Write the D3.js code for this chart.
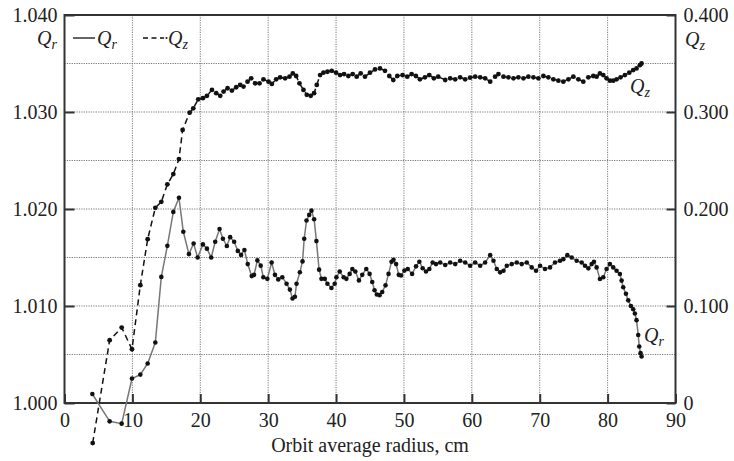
<!DOCTYPE html>
<html><head><meta charset="utf-8">
<script src="https://cdn.jsdelivr.net/npm/d3@7"></script>
<style>
html,body{margin:0;padding:0;background:#fff;}
text{font-family:"Liberation Serif","Times New Roman",serif;fill:#222;}
</style></head>
<body><svg id="c" width="734" height="461"></svg>
<script>
// ---- data ----
const qrX = [4.1,6.65,8.42,9.94,11.17,12.25,13.38,14.26,15.15,16.03,16.86,17.5,18.33,19.02,19.61,20.39,20.98,21.61,22.2,22.84,23.33,23.91,24.4,24.99,25.53,26.01,26.5,26.99,27.58,27.92,28.41,28.9,29.29,29.88,30.51,31.0,31.49,32.08,32.71,33.2,33.59,33.94,34.18,34.67,35.06,35.31,35.65,36.04,36.38,36.77,37.11,37.5,37.85,38.34,38.73,39.32,39.8,40.05,40.54,41.12,41.52,42.0,42.4,42.84,43.37,43.86,44.45,44.94,45.33,45.67,46.01,46.41,46.8,47.29,47.73,48.17,48.46,48.85,49.24,49.58,50.07,50.56,51.2,51.78,52.27,52.76,53.25,53.74,54.23,54.72,55.34,56.08,56.81,57.55,58.28,59.02,59.75,60.49,61.23,61.96,62.7,63.19,63.68,64.17,64.66,65.15,65.88,66.62,67.35,68.09,68.82,69.46,70.05,70.78,71.52,72.25,72.99,73.48,74.07,74.71,75.44,76.18,76.67,77.16,77.65,77.99,78.38,78.87,79.36,79.85,80.34,80.83,81.32,81.81,82.06,82.3,82.7,83.04,83.43,83.77,84.02,84.26,84.51,84.66,84.85,85.0];
const qrY = [1.00093,0.99811,0.99787,1.00252,1.00293,1.00407,1.00623,1.0130,1.0162,1.0197,1.02116,1.01765,1.01535,1.01645,1.0150,1.01635,1.01591,1.0150,1.01662,1.01794,1.01693,1.01618,1.0171,1.01662,1.01568,1.01527,1.01578,1.01432,1.01308,1.01321,1.0147,1.01416,1.01297,1.0128,1.01449,1.01321,1.01274,1.01297,1.0123,1.01169,1.01078,1.01095,1.0123,1.01348,1.0146,1.01693,1.01882,1.01939,1.01983,1.01895,1.01669,1.01375,1.0128,1.0128,1.0123,1.01186,1.0123,1.01297,1.01355,1.01297,1.0128,1.01331,1.01382,1.01355,1.01264,1.01321,1.01382,1.01331,1.01247,1.01162,1.01118,1.01112,1.01145,1.01213,1.01331,1.01456,1.01476,1.01432,1.01321,1.01314,1.01365,1.01382,1.01331,1.01409,1.01456,1.01389,1.01355,1.01382,1.01449,1.01432,1.01449,1.01422,1.01449,1.01432,1.01466,1.01449,1.01415,1.01449,1.01415,1.01449,1.01524,1.01466,1.01381,1.01347,1.01364,1.01415,1.01432,1.01449,1.01432,1.01449,1.01398,1.01364,1.01415,1.01381,1.01398,1.01449,1.01466,1.01483,1.01524,1.015,1.01466,1.01449,1.01415,1.01388,1.01432,1.01456,1.01398,1.01279,1.01296,1.01381,1.01432,1.01398,1.01364,1.0133,1.01262,1.01194,1.01126,1.01058,1.01,1.00966,1.00922,1.00854,1.00701,1.00582,1.00514,1.0048];
const qzX = [4.15,6.65,8.42,9.94,11.17,12.25,13.38,14.26,15.15,16.03,16.86,17.4,18.43,18.97,19.7,20.39,20.98,21.72,22.35,22.94,23.43,24.02,24.66,25.29,25.88,26.37,26.96,27.5,28.09,28.73,29.31,30.05,30.54,31.18,31.76,32.5,33.14,33.63,34.12,34.61,35.2,35.69,36.27,36.76,37.16,37.65,38.14,38.73,39.36,40.0,40.59,41.18,41.81,42.45,43.04,43.63,44.26,45.0,45.74,46.47,47.21,47.84,48.43,49.02,49.8,50.49,51.13,51.76,52.35,53.09,53.73,54.41,55.05,56.08,56.81,57.55,58.28,59.02,59.75,60.49,61.23,61.96,62.7,63.43,63.92,64.66,65.39,66.13,66.86,67.6,68.33,69.07,69.8,70.54,71.27,72.01,72.75,73.48,74.22,74.95,75.69,76.42,77.16,77.89,78.38,78.87,79.36,79.85,80.34,80.83,81.32,81.91,82.55,83.19,83.77,84.26,84.75,85.0];
const qzY = [-0.0413,0.0647,0.0778,0.0554,0.1215,0.1689,0.2012,0.2074,0.2254,0.236,0.2515,0.2815,0.2993,0.3038,0.3131,0.3143,0.3167,0.3228,0.3194,0.3167,0.3211,0.3245,0.3221,0.3255,0.3279,0.3262,0.3313,0.3347,0.3296,0.3296,0.3337,0.3313,0.3289,0.3337,0.3357,0.3347,0.3364,0.3398,0.3371,0.3296,0.3228,0.3177,0.3167,0.3194,0.3279,0.3381,0.3405,0.3415,0.3425,0.3405,0.3381,0.3391,0.3371,0.3391,0.3364,0.3398,0.3364,0.3405,0.3439,0.3449,0.3425,0.3371,0.333,0.3371,0.3381,0.3364,0.3391,0.3371,0.3337,0.3357,0.3381,0.3347,0.3364,0.333,0.3347,0.3337,0.3357,0.3337,0.3354,0.3364,0.3357,0.3347,0.3313,0.3364,0.3391,0.3364,0.3357,0.3347,0.3357,0.3347,0.3364,0.3357,0.3347,0.3371,0.3357,0.3337,0.3323,0.3313,0.3337,0.3364,0.3337,0.3313,0.3357,0.3371,0.3364,0.3398,0.3381,0.3347,0.3323,0.3323,0.3337,0.3357,0.3381,0.3405,0.3432,0.3449,0.3483,0.35];
const xTicks = [0,10,20,30,40,50,60,70,80,90];
const leftTicks = [1.000,1.010,1.020,1.030,1.040];
const rightTicks = [0,0.1,0.2,0.3,0.4];
const rightTickLabels = ["0","0.100","0.200","0.300","0.400"];
const gridY = [1.005,1.010,1.015,1.020,1.025,1.030,1.035];
const gridX = [10,20,30,40,50,60,70,80];
const xTitle = "Orbit average radius, cm";

// ---- layout ----
const L = 64.5, R = 675.5, T = 15, B = 403;
const svg = d3.select("#c");
const x = d3.scaleLinear().domain([0,90]).range([L,R]);
const yL = d3.scaleLinear().domain([1.0,1.04]).range([B,T]);
const yR = d3.scaleLinear().domain([0,0.4]).range([B,T]);

// grid
const g = svg.append("g");
g.selectAll(".gx").data(gridX).join("line")
  .attr("x1",d=>x(d)).attr("x2",d=>x(d)).attr("y1",T).attr("y2",B)
  .attr("stroke","#777").attr("stroke-width",1).attr("stroke-dasharray","1.2,1.2");
g.selectAll(".gy").data(gridY).join("line")
  .attr("x1",L).attr("x2",R).attr("y1",d=>yL(d)).attr("y2",d=>yL(d))
  .attr("stroke","#777").attr("stroke-width",1).attr("stroke-dasharray","1.2,1.2");

// axes
const fs = "20px";
const ax1 = svg.append("g").attr("transform",`translate(0,${B})`)
  .call(d3.axisBottom(x).tickValues(xTicks).tickSize(-9).tickPadding(10).tickFormat(d3.format("d")));
const ax2 = svg.append("g").attr("transform",`translate(${L},0)`)
  .call(d3.axisLeft(yL).tickValues(leftTicks).tickSize(-10).tickPadding(7).tickFormat(d3.format(".3f")));
const ax3 = svg.append("g").attr("transform",`translate(${R},0)`)
  .call(d3.axisRight(yR).tickValues(rightTicks).tickSize(-9).tickPadding(8).tickFormat((d,i)=>rightTickLabels[i]));
[ax1,ax2,ax3].forEach(a=>{
  a.select(".domain").remove();
  a.selectAll(".tick line").attr("stroke","#333").attr("stroke-width",2);
  a.selectAll(".tick text").attr("font-size",fs).attr("font-family","Liberation Serif").attr("fill","#222");
});
ax2.selectAll(".tick text").attr("dy","0.33em");
ax3.selectAll(".tick text").attr("dy","0.33em");

// frame
svg.append("rect").attr("x",L).attr("y",T).attr("width",R-L).attr("height",B-T)
  .attr("fill","none").attr("stroke","#333").attr("stroke-width",2);

// series
const qr = qrX.map((v,i)=>[v,qrY[i]]);
const qz = qzX.map((v,i)=>[v,qzY[i]]);
svg.append("path").datum(qz)
  .attr("d",d3.line().x(d=>x(d[0])).y(d=>yR(d[1])))
  .attr("fill","none").attr("stroke","#111").attr("stroke-width",1.5).attr("stroke-dasharray","6,4");
svg.append("path").datum(qr)
  .attr("d",d3.line().x(d=>x(d[0])).y(d=>yL(d[1])))
  .attr("fill","none").attr("stroke","#777").attr("stroke-width",1.5);
svg.append("g").selectAll("circle").data(qz).join("circle")
  .attr("cx",d=>x(d[0])).attr("cy",d=>yR(d[1])).attr("r",2.4).attr("fill","#111");
svg.append("g").selectAll("circle").data(qr).join("circle")
  .attr("cx",d=>x(d[0])).attr("cy",d=>yL(d[1])).attr("r",2.3).attr("fill","#111");

// Q label helper
function qlabel(px,py,sub){
  const t = svg.append("text").attr("x",px).attr("y",py).attr("font-size","20px");
  t.append("tspan").attr("font-style","italic").text("Q");
  t.append("tspan").attr("font-style","italic").attr("font-size","14px").attr("dy",4).text(sub);
  return t;
}
// axis titles
qlabel(37,45,"r");
qlabel(685,46,"z");
// legend
svg.append("line").attr("x1",73).attr("x2",95).attr("y1",38).attr("y2",38).attr("stroke","#111").attr("stroke-width",1.3);
qlabel(97,45,"r");
svg.append("line").attr("x1",143).attr("x2",164).attr("y1",38).attr("y2",38).attr("stroke","#111").attr("stroke-width",1.3).attr("stroke-dasharray","5,3.5");
svg.append("circle").attr("cx",166.5).attr("cy",38).attr("r",1).attr("fill","#111");
qlabel(168,45,"z");
// annotations
qlabel(630,93,"z");
qlabel(644,342,"r");
// x title
svg.append("text").attr("x",(L+R)/2).attr("y",452).attr("text-anchor","middle").attr("font-size","20px").text(xTitle);
</script></body></html>
